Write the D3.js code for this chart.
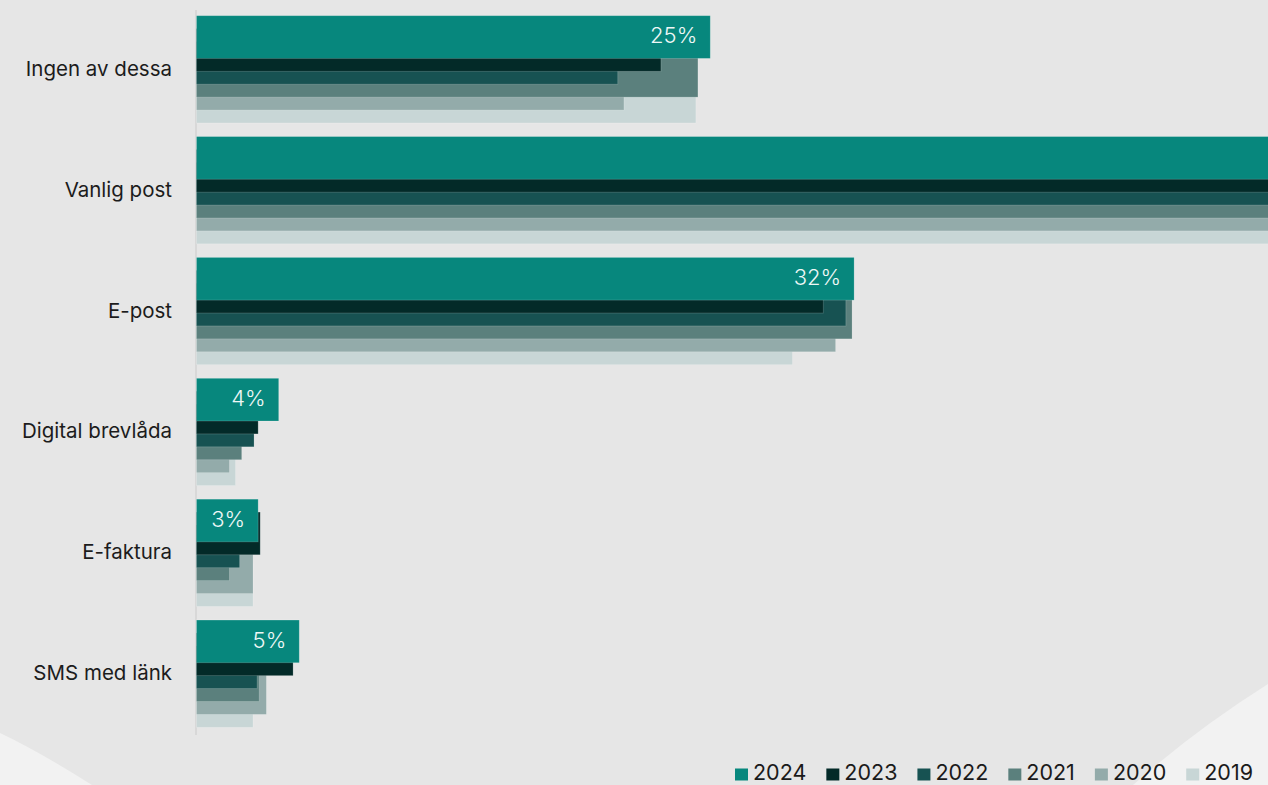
<!DOCTYPE html>
<html>
<head>
<meta charset="utf-8">
<script src="https://cdn.jsdelivr.net/npm/d3@7"></script>
<style>
  html, body { margin: 0; padding: 0; background: #e6e6e6; }
  svg { display: block; font-family: Inter, "Noto Sans", sans-serif; }
</style>
</head>
<body>
<svg id="chart" width="1268" height="785"></svg>
<script>
// Kanaler för fakturor, andel per år (%)
const categories = ["Ingen av dessa", "Vanlig post", "E-post", "Digital brevlåda", "E-faktura", "SMS med länk"];
const years = ["2024", "2023", "2022", "2021", "2020", "2019"];
const values2024 = [25, 68, 32, 4, 3, 5];
const values2023 = [22.6, 70, 30.5, 3.0, 3.1, 4.7];
const values2022 = [20.5, 71, 31.6, 2.8, 2.1, 2.95];
const values2021 = [24.4, 72, 31.9, 2.2, 1.6, 3.05];
const values2020 = [20.8, 73, 31.1, 1.6, 2.75, 3.4];
const values2019 = [24.3, 74, 29.0, 1.9, 2.75, 2.75];
const seriesValues = [values2024, values2023, values2022, values2021, values2020, values2019];
const colors = ["#07877d", "#032a28", "#175252", "#5b807d", "#93abaa", "#c8d6d6"];

const W = 1268, H = 785;
const svg = d3.select("#chart");

// Bakgrund med ljusa hörnformer nertill
svg.append("rect").attr("width", W).attr("height", H).attr("fill", "#e6e6e6");
svg.append("path")
  .attr("d", `M0,733 Q40,752 92,785 L0,785 Z`)
  .attr("fill", "#f2f2f2");
svg.append("path")
  .attr("d", `M1133,785 Q1195,730 1268,684 L1268,785 Z`)
  .attr("fill", "#f2f2f2");

const x = d3.scaleLinear().domain([0, 52]).range([196.5, 196.5 + 52 * 20.55]);
const y = d3.scaleBand().domain(categories).range([15.7, 727.3]).paddingInner(0.1126).paddingOuter(0);

const band = y.bandwidth();
const barH = band * 0.398;
const stepY = (band - barH) / (years.length - 1);

// Vertikal axellinje
svg.append("line")
  .attr("x1", x(0) - 0.5).attr("x2", x(0) - 0.5)
  .attr("y1", 10).attr("y2", 735)
  .attr("stroke", "#d3d3d3").attr("stroke-width", 1.5);

// Staplar: äldsta år ritas först, 2024 överst
const bars = svg.append("g");
for (let s = years.length - 1; s >= 0; s--) {
  bars.selectAll(null)
    .data(categories.map((c, i) => ({ c, v: seriesValues[s][i] })))
    .join("rect")
    .attr("x", x(0))
    .attr("y", d => y(d.c) + s * stepY)
    .attr("width", d => x(d.v) - x(0))
    .attr("height", barH)
    .attr("fill", colors[s])
    .attr("stroke", "rgba(255,255,255,0.22)")
    .attr("stroke-width", 0.8);
}

// Värdeetiketter för 2024 (bara de som ryms inom ytan)
svg.append("g").selectAll("text")
  .data(categories.map((c, i) => ({ c, v: values2024[i] })).filter(d => x(d.v) <= W))
  .join("text")
  .attr("x", d => x(d.v) - 13)
  .attr("y", d => y(d.c) + barH / 2 + 6.3)
  .attr("text-anchor", "end")
  .attr("fill", "#eef7f6")
  .attr("font-size", 22)
  .attr("font-weight", 300)
  .text(d => `${d.v}%`);

// Kategorietiketter
svg.append("g").selectAll("text")
  .data(categories)
  .join("text")
  .attr("x", 172)
  .attr("y", d => y(d) + band / 2 + 6.5)
  .attr("text-anchor", "end")
  .attr("fill", "#1c1c1c")
  .attr("font-size", 20.5)
  .text(d => d);

// Förklaring
const legend = svg.append("g");
let lx = 735;
years.forEach((yr, i) => {
  legend.append("rect")
    .attr("x", lx).attr("y", 768.5)
    .attr("width", 13).attr("height", 12)
    .attr("fill", colors[i]);
  const t = legend.append("text")
    .attr("x", lx + 18).attr("y", 779.5)
    .attr("fill", "#1a1a1a")
    .attr("font-size", 21.5)
    .text(yr);
  lx += 18 + t.node().getComputedTextLength() + 20;
});
</script>
</body>
</html>
